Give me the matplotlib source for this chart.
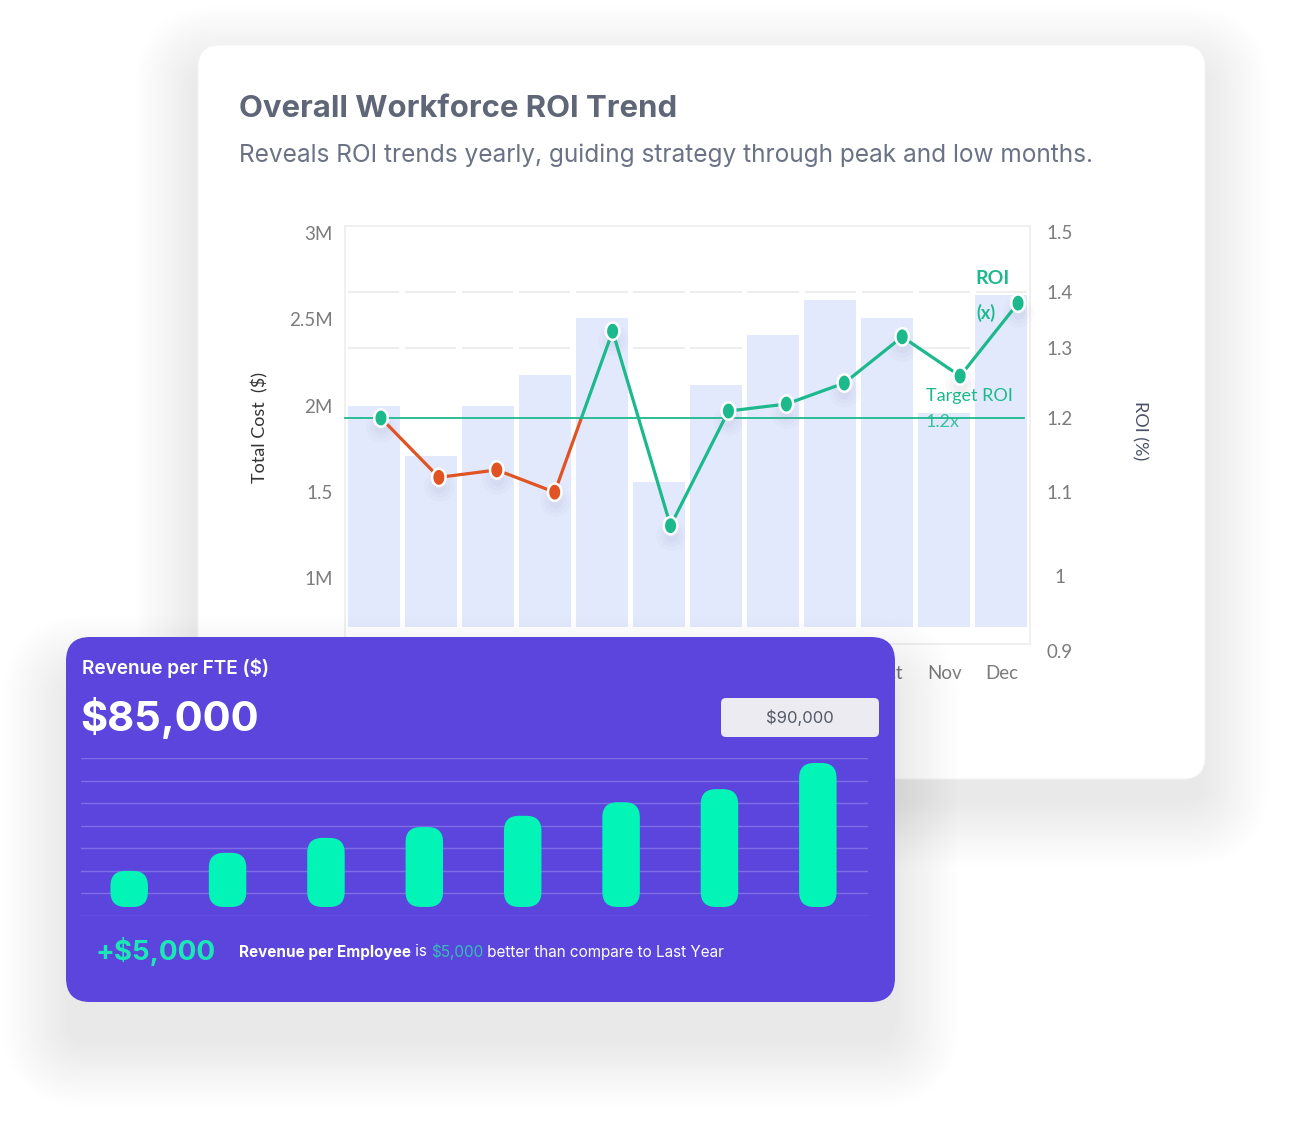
import numpy as np
import matplotlib
matplotlib.use('Agg')
import matplotlib.pyplot as plt
from matplotlib.patches import FancyBboxPatch
from matplotlib import transforms

# ---- data ----
months = ['Jan', 'Feb', 'Mar', 'Apr', 'May', 'Jun', 'Jul', 'Aug', 'Sep', 'Oct', 'Nov', 'Dec']
total_cost = [2.00e6, 1.71e6, 2.00e6, 2.18e6, 2.51e6, 1.56e6, 2.12e6, 2.41e6, 2.61e6, 2.51e6, 1.96e6, 2.64e6]
roi = [1.20, 1.12, 1.13, 1.10, 1.33, 1.06, 1.21, 1.22, 1.25, 1.32, 1.26, 1.38]
target_roi = 1.2

cost_ticks = [1.0e6, 1.5e6, 2.0e6, 2.5e6, 3.0e6]
cost_tick_labels = ['1M', '1.5', '2M', '2.5M', '3M']
roi_ticks = [0.9, 1.0, 1.1, 1.2, 1.3, 1.4, 1.5]
roi_tick_labels = ['0.9', '1', '1.1', '1.2', '1.3', '1.4', '1.5']

# revenue per FTE card ($k)
fte_values = [65.0, 69.0, 72.3, 74.7, 77.2, 80.2, 83.1, 88.9]
fte_grid = [55, 60, 65, 70, 75, 80, 85, 90]
fte_base = 57.0
cost_base = 0.72e6

# ---- style ----
W, H = 1316, 1134
GREEN = '#1bb98c'
RED = '#e05323'
PURPLE = '#5b45dd'
MINT = '#02f5b6'
TICK = '#7c7c7c'
# the ROI axis in the mockup has unevenly spaced tick labels
roi_tick_frac = [0.0, 0.179, 0.379, 0.556, 0.723, 0.857, 1.0]

fig = plt.figure(figsize=(W / 100, H / 100), dpi=100)


def px_box(x0, y0, x1, y1):
    return [x0 / W, 1 - y1 / H, (x1 - x0) / W, (y1 - y0) / H]


def shadow(ax, x0, y0, x1, y1, r, dy=18, n=22, step=3.0, alpha=0.016):
    for k in range(n):
        e = k * step
        ax.add_patch(FancyBboxPatch((x0 - e, y0 - e + dy), (x1 - x0) + 2 * e, (y1 - y0) + 2 * e,
                                    boxstyle=f'round,pad=0,rounding_size={r + e}',
                                    fc='#4a4f78', ec='none', alpha=alpha, zorder=0))


# background layer: main card
bg = fig.add_axes([0, 0, 1, 1])
bg.set_xlim(0, W)
bg.set_ylim(H, 0)
bg.axis('off')
bg.set_zorder(0)
shadow(bg, 198, 45, 1205, 779, 22, dy=24, alpha=0.0045)
bg.add_patch(FancyBboxPatch((198, 45), 1007, 734, boxstyle='round,pad=0,rounding_size=22',
                            fc='white', ec='#f4f4f7', lw=0.8, zorder=2))
bg.text(239, 109, 'Overall Workforce ROI Trend', fontsize=22.4, fontweight='bold',
        color='#5f6678', family='Inter', va='center', ha='left', zorder=3)
bg.text(239, 155, 'Reveals ROI trends yearly, guiding strategy through peak and low months.',
        fontsize=17.6, color='#6b7285', family='Inter', va='center', ha='left', zorder=3)

# ---- cost bars axis ----
ax1 = fig.add_axes(px_box(345, 226, 1030, 644))
ax1.set_zorder(1)
ax1.patch.set_alpha(0)
x = np.arange(len(months))
ax1.bar(x, np.array(total_cost) - cost_base, bottom=cost_base, width=0.91,
        color='#e3e9fc', zorder=1)
ax1.set_xlim(-0.5, 11.5)
ax1.set_ylim(0.62e6, 3.04e6)
ax1.set_yticks(cost_ticks, cost_tick_labels)
ax1.set_xticks(x, months)
ax1.tick_params(axis='both', length=0, labelsize=13.5, labelcolor=TICK)
ax1.tick_params(axis='y', pad=9)
ax1.tick_params(axis='x', pad=15)
for lbl in ax1.get_xticklabels() + ax1.get_yticklabels():
    lbl.set_family('Lato')
for sp in ax1.spines.values():
    sp.set_color('#eeeeee')
    sp.set_linewidth(1.2)
ax1.set_ylabel('Total Cost  ($)', fontsize=13, color='#333333', family='Lato')
ax1.yaxis.set_label_coords(-0.112, 0.517)

# ---- ROI axis ----
ax2 = fig.add_axes(px_box(352, 232, 1047, 651))
ax2.set_zorder(2)
ax2.patch.set_alpha(0)


def roi_fwd(v):
    return np.interp(v, roi_ticks, roi_tick_frac)


def roi_inv(f):
    return np.interp(f, roi_tick_frac, roi_ticks)


ax2.set_yscale('function', functions=(roi_fwd, roi_inv))
ax2.set_xlim(-0.5, 11.5)
ax2.set_ylim(0.9, 1.5)
for sp in ax2.spines.values():
    sp.set_visible(False)
ax2.set_xticks([])
ax2.yaxis.tick_right()
ax2.set_yticks(roi_ticks, roi_tick_labels)
ax2.yaxis.set_minor_locator(matplotlib.ticker.NullLocator())
ax2.tick_params(axis='y', length=0, labelsize=13.5, labelcolor=TICK, pad=9)
for lbl in ax2.get_yticklabels():
    lbl.set_family('Lato')
    lbl.set_horizontalalignment('center')
ax2.yaxis.set_label_position('right')
ax2.set_ylabel('ROI (%)', rotation=270, fontsize=13, color='#4b5068', family='Lato', va='center')
ax2.yaxis.set_label_coords(1.133, 0.527)

# grid segments behind the bars, at the ROI tick levels
grid_tr = transforms.blended_transform_factory(ax1.transData, ax2.transData)
for lv in roi_ticks[1:-1]:
    ax1.hlines([lv] * len(x), x - 0.45, x + 0.45, color='#eeeeee', lw=1.5,
               transform=grid_tr, zorder=0.5)

# target line
ax2.axhline(target_roi, xmin=-0.01, xmax=0.967, color=GREEN, lw=1.3, clip_on=False, zorder=2)

# split line into the early below-target stretch (red) and the rest (green)
roi_arr = np.array(roi)
dip = int(np.argmax(roi_arr < target_roi))
rec = dip + int(np.argmax(roi_arr[dip:] >= target_roi))
f0, f1 = roi_fwd(roi_arr[rec - 1]), roi_fwd(roi_arr[rec])
t = (roi_fwd(target_roi) - f0) / (f1 - f0)
xc = rec - 1 + t
red_x = list(x[:rec]) + [xc]
red_y = list(roi_arr[:rec]) + [target_roi]
green_x = [xc] + list(x[rec:])
green_y = [target_roi] + list(roi_arr[rec:])
ax2.plot(red_x, red_y, color=RED, lw=2.3, zorder=3, solid_capstyle='round')
ax2.plot(green_x, green_y, color=GREEN, lw=2.3, zorder=3, solid_capstyle='round')

theta = np.linspace(0, 2 * np.pi, 40)
ell = np.column_stack([0.78 * np.cos(theta), np.sin(theta)])
mcol = [RED if dip <= i < rec else GREEN for i in range(len(roi))]
sh_tr = transforms.offset_copy(ax2.transData, fig=fig, x=0, y=-9, units='dots')
for s, a in [(22, 0.04), (16, 0.05), (10, 0.06)]:
    ax2.scatter(x, roi_arr, s=s ** 2, marker='o', color='#8f94b0', alpha=a,
                transform=sh_tr, zorder=2.5, linewidths=0)
ax2.scatter(x, roi_arr, s=12.5 ** 2, marker=ell, c=mcol, edgecolors='white',
            linewidths=1.8, zorder=4)

ax2.text(0.921, 0.890, 'ROI', transform=ax2.transAxes, color=GREEN, fontsize=14,
         fontweight='bold', family='Lato', ha='center', va='center')
ax2.text(0.912, 0.807, '(x)', transform=ax2.transAxes, color=GREEN, fontsize=13,
         fontweight='bold', family='Lato', ha='center', va='center')
ax2.text(0.888, 0.609, 'Target ROI', transform=ax2.transAxes, color=GREEN, fontsize=13,
         family='Lato', ha='center', va='center')
ax2.text(0.849, 0.547, '1.2x', transform=ax2.transAxes, color=GREEN, fontsize=13,
         family='Lato', ha='center', va='center', alpha=0.85)

# ---- front card: revenue per FTE ----
fg = fig.add_axes([0, 0, 1, 1])
fg.set_xlim(0, W)
fg.set_ylim(H, 0)
fg.axis('off')
fg.patch.set_alpha(0)
fg.set_zorder(3)
shadow(fg, 66, 637, 895, 1002, 22, dy=42, alpha=0.0055)
fg.add_patch(FancyBboxPatch((66, 637), 829, 365, boxstyle='round,pad=0,rounding_size=24',
                            fc=PURPLE, ec='none', zorder=2))
fg.text(82, 668, 'Revenue per FTE ($)', color='white', fontsize=13.7, fontweight='semibold',
        family='Inter', va='center', ha='left', zorder=3)
fg.text(80, 718, '$85,000', color='white', fontsize=30, fontweight='bold',
        family='Inter', va='center', ha='left', zorder=3)
fg.add_patch(FancyBboxPatch((721, 698), 158, 39, boxstyle='round,pad=0,rounding_size=5',
                            fc='#ebebf1', ec='none', zorder=3))
fg.text(800, 718, '$90,000', color='#555a66', fontsize=12, family='Inter',
        va='center', ha='center', zorder=4)
fg.text(96, 952, '+$5,000', color='#1ae8b6', fontsize=20, fontweight='bold',
        family='Inter', va='center', ha='left', zorder=3)

parts = [('Revenue per Employee', 'white', 'bold'),
         (' is ', 'white', 'normal'),
         ('$5,000', '#36bdb6', 'normal'),
         (' better than compare to Last Year', 'white', 'normal')]
txt = fg.text(239, 952, parts[0][0], color=parts[0][1], fontweight=parts[0][2],
              fontsize=11, family='Inter', va='center', ha='left', zorder=3)
for s, c, wgt in parts[1:]:
    txt = fg.annotate(s, xy=(1, 0), xycoords=txt, va='bottom', ha='left', color=c,
                      fontweight=wgt, fontsize=11, family='Inter', zorder=3)

ax3 = fig.add_axes(px_box(81, 758, 868, 916))
ax3.set_zorder(4)
ax3.patch.set_alpha(0)
ax3.axis('off')
ax3.set_xlim(-0.49, 7.51)
ax3.set_ylim(55, 90)
for g in fte_grid:
    ax3.axhline(g, color='white', alpha=0.22, lw=1, zorder=1)

# rounded bars: corner radius in pixels, converted to data units
bw = 0.381
ax_w_px, ax_h_px = 868 - 81, 916 - 758
xu = 8.0 / ax_w_px
yu = 35.0 / ax_h_px
r_px = 15
for i, v in enumerate(fte_values):
    ax3.add_patch(FancyBboxPatch((i - bw / 2, fte_base), bw, v - fte_base,
                                 boxstyle=f'round,pad=0,rounding_size={r_px * xu}',
                                 mutation_aspect=yu / xu, fc=MINT, ec='none', zorder=2))

fig.savefig('out.png', dpi=100)
